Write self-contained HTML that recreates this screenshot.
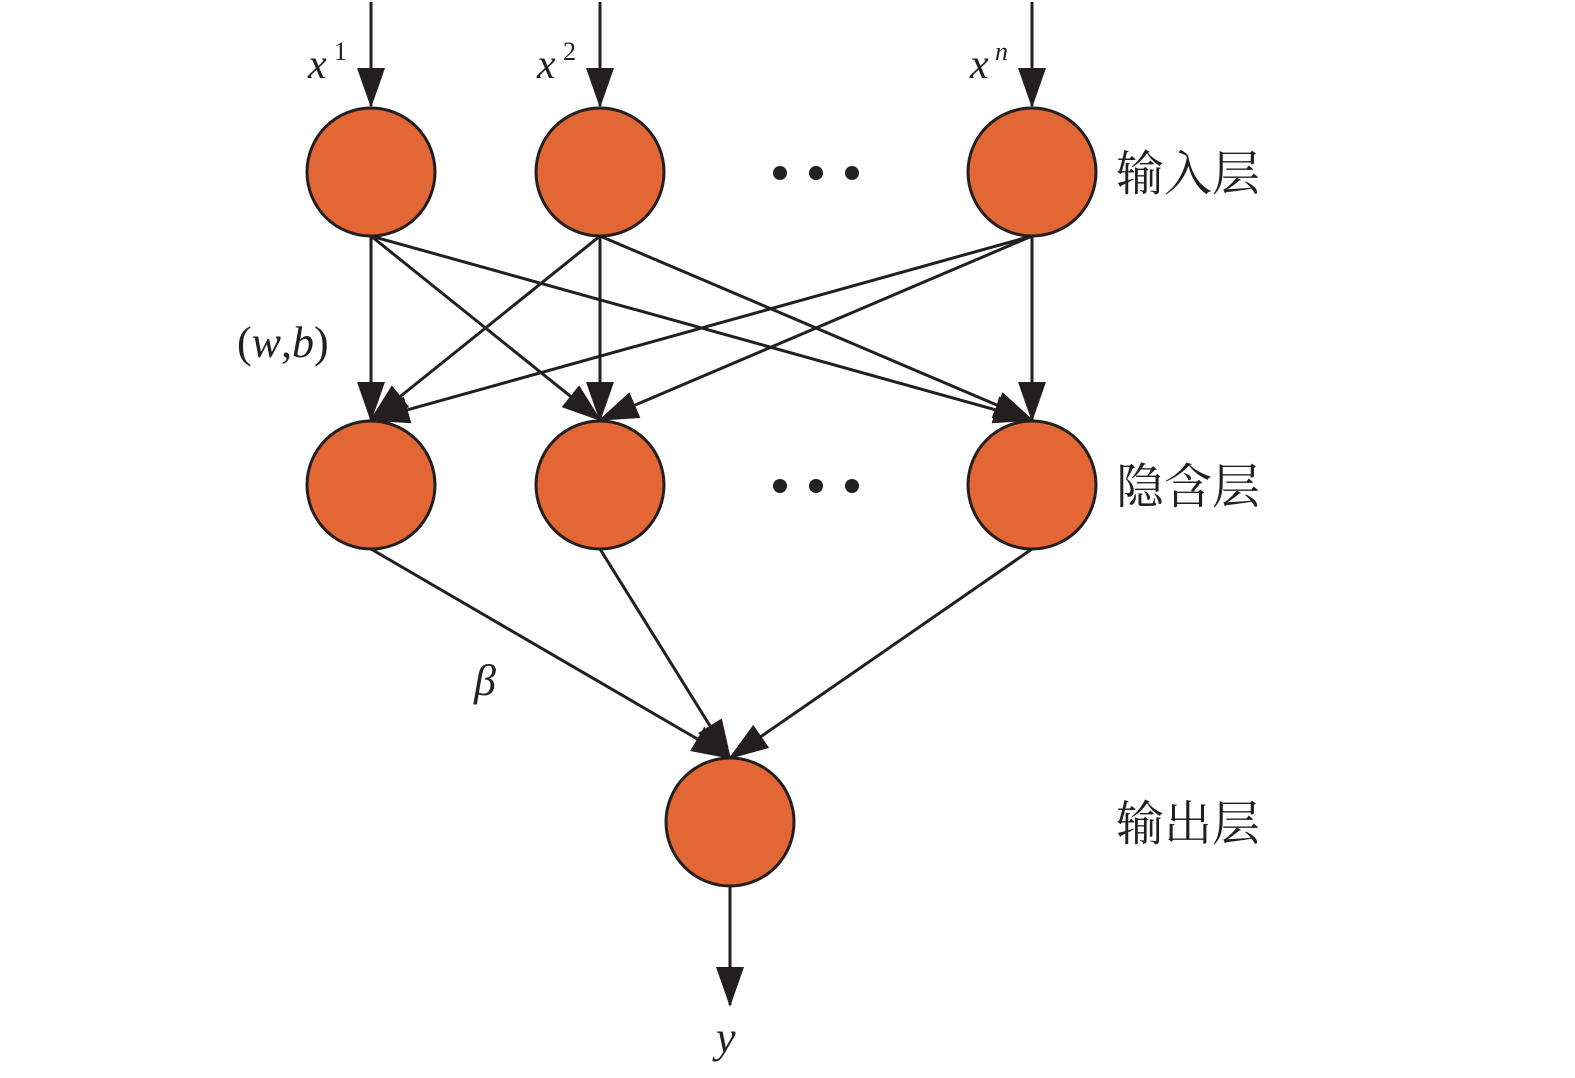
<!DOCTYPE html>
<html><head><meta charset="utf-8"><style>
html,body{margin:0;padding:0;background:#fff;}
svg{display:block;}
.m{font-family:"Liberation Serif",serif;font-style:italic;fill:#231f20;}
.c{font-family:"Liberation Serif","Noto Serif CJK SC",serif;fill:#231f20;font-size:48px;}
</style></head><body>
<svg width="1575" height="1078" viewBox="0 0 1575 1078" xmlns="http://www.w3.org/2000/svg">
<defs>
<marker id="a" markerWidth="40" markerHeight="28" refX="38" refY="14" orient="auto" markerUnits="userSpaceOnUse">
<path d="M0,0 L40,14 L0,28 Z" fill="#231f20"/>
</marker>
</defs>
<g stroke="#231f20" stroke-width="3" fill="none" marker-end="url(#a)">
<line x1="371" y1="2" x2="371" y2="106"/>
<line x1="600" y1="2" x2="600" y2="106"/>
<line x1="1032" y1="2" x2="1032" y2="106"/>
<line x1="371" y1="236" x2="371" y2="420"/>
<line x1="371" y1="236" x2="600" y2="420"/>
<line x1="371" y1="236" x2="1032" y2="420"/>
<line x1="600" y1="236" x2="371" y2="420"/>
<line x1="600" y1="236" x2="600" y2="420"/>
<line x1="600" y1="236" x2="1032" y2="420"/>
<line x1="1032" y1="236" x2="371" y2="420"/>
<line x1="1032" y1="236" x2="600" y2="420"/>
<line x1="1032" y1="236" x2="1032" y2="420"/>
<line x1="371" y1="549" x2="730" y2="758"/>
<line x1="600" y1="549" x2="730" y2="758"/>
<line x1="1032" y1="549" x2="730" y2="758"/>
<line x1="730" y1="886" x2="730" y2="1005"/>
</g>
<g fill="#e36635" stroke="#231f20" stroke-width="3">
<circle cx="371" cy="172" r="64"/><circle cx="600" cy="172" r="64"/><circle cx="1032" cy="172" r="64"/>
<circle cx="371" cy="485" r="64"/><circle cx="600" cy="485" r="64"/><circle cx="1032" cy="485" r="64"/>
<circle cx="730" cy="822" r="64"/>
</g>
<g fill="#231f20">
<circle cx="780" cy="173" r="7"/><circle cx="816" cy="173" r="7"/><circle cx="852" cy="173" r="7"/>
<circle cx="780" cy="486" r="7"/><circle cx="816" cy="486" r="7"/><circle cx="852" cy="486" r="7"/>
</g>
<text class="m" x="308" y="78" font-size="42">x</text><text x="334" y="60" font-family="Liberation Serif,serif" font-size="26" fill="#231f20">1</text>
<text class="m" x="537" y="78" font-size="42">x</text><text x="563" y="60" font-family="Liberation Serif,serif" font-size="26" fill="#231f20">2</text>
<text class="m" x="970" y="78" font-size="42">x</text><text class="m" x="995" y="60" font-size="26">n</text>
<text x="237" y="357" font-family="Liberation Serif,serif" font-size="44" fill="#231f20">(<tspan font-style="italic">w</tspan>,<tspan font-style="italic">b</tspan>)</text>
<text class="m" x="474" y="695" font-size="44">β</text>
<text class="m" x="716" y="1052" font-size="44">y</text>
<text class="c" x="1116" y="190">输入层</text>
<text class="c" x="1116" y="503">隐含层</text>
<text class="c" x="1116" y="840">输出层</text>
</svg>
</body></html>
